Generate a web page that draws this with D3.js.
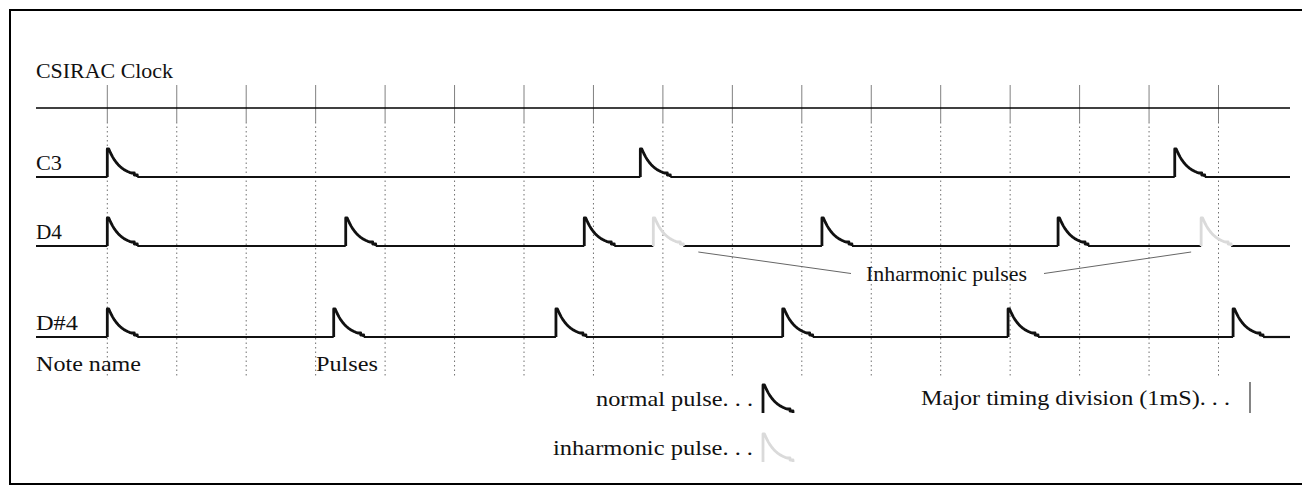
<!DOCTYPE html>
<html>
<head>
<meta charset="utf-8">
<script src="https://cdn.jsdelivr.net/npm/d3@7"></script>
<style>
	body { margin: 0; background: #fff; overflow: hidden; }
	text { font-family: "Liberation Serif", "Times New Roman", serif; font-size: 21px; fill: #111; }
</style>
</head>
<body>
<svg id="svg"></svg>
<script>

const width = 1302;
const height = 495;

// timing divisions, in mS from the first clock tick
const clockTicks = [0, 1, 2, 3, 4, 5, 6, 7, 8, 9, 10, 11, 12, 13, 14, 15, 16];

const notes = ["C3", "D4", "D#4"];

// pulse start times (mS)
const pulsesC3 = [0, 7.675, 15.37];
const pulsesD4 = [0, 3.433, 6.868, 10.29, 13.69];
const inharmonicD4 = [7.862, 15.75];
const pulsesDs4 = [0, 3.26, 6.46, 9.725, 12.97, 16.21];

const normalByNote = { "C3": pulsesC3, "D4": pulsesD4, "D#4": pulsesDs4 };
const inharmonicByNote = { "C3": [], "D4": inharmonicD4, "D#4": [] };

const svg = d3.select("#svg")
			.attr("width", width)
			.attr("height", height)
			.style("display", "block")
			.attr("viewBox", `0 0 ${width} ${height}`);

const x = d3.scaleLinear()
			.domain([0, 16])
			.range([107.3, 1218.5]);

const lineStart = 36;
const lineEnd = 1290;

const y = d3.scaleOrdinal()
			.domain(notes)
			.range([177, 246, 337]);

const clockY = 108;
const pulseH = 28;
const pulseW = 30;

// helper: text squeezed/stretched to the measured width
function label(sel, str, x0, y0, w, anchor) {
	return sel.append("text")
		.attr("x", x0)
		.attr("y", y0)
		.attr("text-anchor", anchor || "start")
		.attr("textLength", w)
		.attr("lengthAdjust", "spacingAndGlyphs")
		.text(str);
}

// frame (right side runs off the page)
svg.append("rect")
	.attr("x", 10)
	.attr("y", 10)
	.attr("width", 1310)
	.attr("height", 474)
	.style("fill", "none")
	.style("stroke", "#000")
	.style("stroke-width", 2);

// timing divisions
const grid = svg.append("g");

grid.selectAll("line.solid")
	.data(clockTicks)
	.enter().append("line")
	.attr("class", "solid")
	.attr("x1", d => x(d)).attr("x2", d => x(d))
	.attr("y1", 85).attr("y2", 122)
	.style("stroke", "#808080")
	.style("stroke-width", 1);

grid.selectAll("line.dot")
	.data(clockTicks)
	.enter().append("line")
	.attr("class", "dot")
	.attr("x1", d => x(d)).attr("x2", d => x(d))
	.attr("y1", 122).attr("y2", 376)
	.style("stroke", "#707070")
	.style("stroke-width", 1)
	.style("stroke-dasharray", "1.5,3");

// clock line
svg.append("line")
	.attr("x1", lineStart).attr("x2", lineEnd)
	.attr("y1", clockY).attr("y2", clockY)
	.style("stroke", "#000")
	.style("stroke-width", 1.6);

label(svg, "CSIRAC Clock", 36, 78, 137);

// one pulse, in local coordinates: sharp rise then a stepped decay
function pulsePath(x0, base) {
	var pts = [[0, 0], [0, -pulseH], [1.5, -pulseH]];
	var k = 2.0;
	for (var i = 1; i <= 12; i++) {
		var t = i / 12;
		var v = (Math.exp(-k * t) - Math.exp(-k)) / (1 - Math.exp(-k));
		pts.push([1.5 + t * 22.5, -4 - (pulseH - 4) * v]);
	}
	pts.push([27, -4], [27, -2], [pulseW, -2], [pulseW, 0]);
	return d3.line()(pts.map(p => [x0 + p[0], base + p[1]]));
}

function drawPulse(sel, x0, base, colour) {
	return sel.append("path")
		.attr("d", pulsePath(x0, base))
		.style("fill", "none")
		.style("stroke", colour)
		.style("stroke-width", 2.8)
		.style("stroke-linejoin", "round");
}

const rows = svg.append("g");

notes.forEach(function(note) {
	var base = y(note);
	var normal = normalByNote[note];
	var inh = inharmonicByNote[note];
	var starts = normal.concat(inh).map(t => x(t)).sort((a, b) => a - b);

	// baseline segments between pulses
	var segs = [];
	var cur = lineStart;
	starts.forEach(function(s) {
		segs.push([cur, s]);
		cur = s + pulseW;
	});
	segs.push([cur, lineEnd]);

	var g = rows.append("g");

	g.selectAll("line")
		.data(segs)
		.enter().append("line")
		.attr("x1", d => d[0]).attr("x2", d => d[1])
		.attr("y1", base).attr("y2", base)
		.style("stroke", "#111")
		.style("stroke-width", 2.2);

	normal.forEach(t => drawPulse(g, x(t), base, "#111"));
	inh.forEach(t => drawPulse(g, x(t), base, "#dadada"));
});

// note names
const labelWidths = { "C3": 26, "D4": 26, "D#4": 42 };
notes.forEach(function(note) {
	label(svg, note, 36, y(note) - 7, labelWidths[note]);
});

label(svg, "Note name", 36, 371, 105);
label(svg, "Pulses", 316, 371, 62);

// inharmonic call-out
const calloutY = y("D4") + 6;
const callout = svg.append("g");

callout.append("line")
	.attr("x1", x(inharmonicD4[0]) + 45).attr("y1", calloutY)
	.attr("x2", 851).attr("y2", calloutY + 21.5)
	.style("stroke", "#666")
	.style("stroke-width", 1);

callout.append("line")
	.attr("x1", 1044).attr("y1", calloutY + 21.5)
	.attr("x2", x(inharmonicD4[1]) - 10).attr("y2", calloutY)
	.style("stroke", "#666")
	.style("stroke-width", 1);

label(callout, "Inharmonic pulses", 866, 281, 161);

// legend
const legend = svg.append("g");

label(legend, "normal pulse. . .", 753, 406, 157, "end");
drawPulse(legend, 763, 413, "#111");

label(legend, "inharmonic pulse. . .", 753, 455, 200, "end");
drawPulse(legend, 763, 462, "#dadada");

label(legend, "Major timing division (1mS). . .", 921, 405, 309);

legend.append("line")
	.attr("x1", 1250).attr("x2", 1250)
	.attr("y1", 382).attr("y2", 413)
	.style("stroke", "#333")
	.style("stroke-width", 1.2);

</script>
</body>
</html>
